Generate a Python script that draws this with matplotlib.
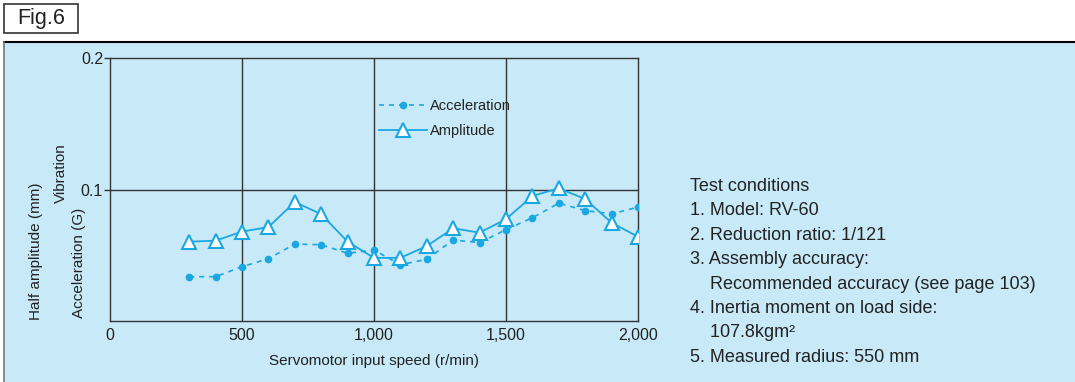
import matplotlib
matplotlib.use('Agg')
import matplotlib.pyplot as plt
from matplotlib.patches import Rectangle
from matplotlib.lines import Line2D

plt.rcParams['font.family'] = ['Liberation Sans', 'DejaVu Sans']

# データ
speed = [300, 400, 500, 600, 700, 800, 900, 1000, 1100, 1200,
         1300, 1400, 1500, 1600, 1700, 1800, 1900, 2000]
acceleration = [0.0337, 0.0337, 0.0413, 0.0474, 0.0585, 0.0580, 0.0515, 0.0540, 0.0428,
                0.0469, 0.0616, 0.0596, 0.0694, 0.0785, 0.0896, 0.0840, 0.0815, 0.0866]
amplitude = [0.0603, 0.0611, 0.0680, 0.0714, 0.0905, 0.0812, 0.0603, 0.0480, 0.0480,
             0.0570, 0.0705, 0.0672, 0.0774, 0.0951, 0.1009, 0.0928, 0.0747, 0.0641]
xticks = [0, 500, 1000, 1500, 2000]
xticklabels = ['0', '500', '1,000', '1,500', '2,000']
yticks = [0.1, 0.2]
yticklabels = ['0.1', '0.2']
conditions = ['Test conditions',
              '1. Model: RV-60',
              '2. Reduction ratio: 1/121',
              '3. Assembly accuracy:',
              '    Recommended accuracy (see page 103)',
              '4. Inertia moment on load side:',
              '    107.8kgm\u00b2',
              '5. Measured radius: 550 mm']

W, H = 1075, 382
BLUE = '#1ba8e2'
PANEL = '#c8e9f8'
DARK = '#333333'
TXT = '#222222'

fig = plt.figure(figsize=(W / 100, H / 100), dpi=100)

def px(x, y):
    return x / W, 1 - y / H

# 背景パネル
x0, y0 = px(4, 382)
fig.patches.append(Rectangle((x0, y0), 1 - x0, (382 - 42) / H, transform=fig.transFigure,
                             facecolor=PANEL, edgecolor='none', zorder=-10))
fig.add_artist(Line2D([4 / W, 1], [1 - 42 / H] * 2, color='black', lw=1.5,
                      transform=fig.transFigure, zorder=-5))
fig.add_artist(Line2D([4 / W] * 2, [0, 1 - 42 / H], color='#777777', lw=1.2,
                      transform=fig.transFigure, zorder=-5))

# Fig.6 ラベル
bx, by = px(4, 33)
fig.patches.append(Rectangle((bx, by), 74 / W, 29 / H, transform=fig.transFigure,
                             facecolor='white', edgecolor=DARK, lw=1.2, zorder=-5))
fig.text(41 / W, 1 - 18.5 / H, 'Fig.6', ha='center', va='center', fontsize=15.5, color=TXT)

ax = fig.add_axes([110 / W, 1 - 321 / H, 528 / W, 263 / H], zorder=2)
ax.set_facecolor(PANEL)
ax.plot(speed, acceleration, linestyle=(0, (3, 3)), color=BLUE, lw=1.2,
        marker='o', markersize=4.5, markerfacecolor=BLUE, markeredgecolor=BLUE, label='Acceleration', zorder=3)
ax.plot(speed, amplitude, linestyle='-', color=BLUE, lw=1.3,
        marker='^', markersize=10.5, markerfacecolor='white', markeredgecolor=BLUE,
        markeredgewidth=1.5, label='Amplitude', zorder=4)

ax.set_xlim(0, 2000)
ax.set_ylim(0, 0.2)
ax.set_xticks(xticks)
ax.set_xticklabels(xticklabels)
ax.set_yticks(yticks)
ax.set_yticklabels(yticklabels)
ax.tick_params(axis='x', length=0, pad=5, labelsize=11.5, colors=TXT)
ax.tick_params(axis='y', length=4, width=1, pad=1, labelsize=11.5, colors=TXT)
ax.tick_params(axis='y', color=DARK)
for x in xticks[1:-1]:
    ax.axvline(x, color=DARK, lw=1, zorder=1)
ax.axhline(0.1, color=DARK, lw=1, zorder=1)
for s in ax.spines.values():
    s.set_color(DARK)
    s.set_linewidth(1)

ax.set_xlabel('Servomotor input speed (r/min)', fontsize=11, color=TXT, labelpad=8)

leg = ax.legend(loc='upper left', bbox_to_anchor=(0.495, 0.87), frameon=False, fontsize=10.5,
                handlelength=3.3, handletextpad=0.2, labelspacing=0.75, borderpad=0)
for t in leg.get_texts():
    t.set_color(TXT)

fig.text(36 / W, 1 - 320 / H, 'Half amplitude (mm)', rotation=90, ha='center', va='bottom',
         fontsize=11, color=TXT)
fig.text(61 / W, 1 - 203 / H, 'Vibration', rotation=90, ha='center', va='bottom',
         fontsize=11, color=TXT)
fig.text(79 / W, 1 - 318 / H, 'Acceleration (G)', rotation=90, ha='center', va='bottom',
         fontsize=11, color=TXT)

fig.text(690 / W, 1 - 178 / H, '\n'.join(conditions), ha='left', va='top',
         fontsize=13, linespacing=1.57, color=TXT)

fig.savefig('out.png', dpi=100)
